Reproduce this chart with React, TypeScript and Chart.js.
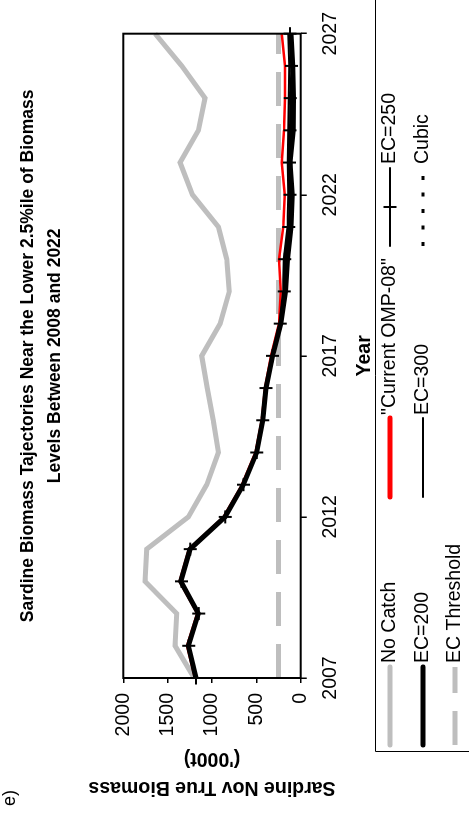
import React, { useEffect, useRef } from "react";
import { Chart, registerables } from "chart.js";
Chart.register(...registerables);

const years = [2007, 2008, 2009, 2010, 2011, 2012, 2013, 2014, 2015, 2016, 2017, 2018, 2019, 2020, 2021, 2022, 2023, 2024, 2025, 2026, 2027];
const noCatch = [1200, 1417, 1398, 1755, 1736, 1267, 1059, 928, 985, 1053, 1116, 909, 805, 834, 928, 1220, 1360, 1154, 1079, 1341, 1642];
const ec200 = [1180, 1267, 1154, 1352, 1248, 853, 647, 496, 428, 391, 316, 225, 170, 150, 110, 95, 120, 85, 80, 90, 110];
const ec250 = [1180, 1262, 1150, 1345, 1245, 850, 645, 495, 428, 391, 318, 230, 185, 180, 135, 120, 125, 120, 118, 105, 120];
const ec300 = [1182, 1265, 1152, 1348, 1246, 852, 648, 498, 430, 393, 322, 240, 200, 190, 150, 140, 145, 140, 135, 130, 140];
const cubic = [1180, 1264, 1152, 1350, 1247, 851, 646, 496, 428, 391, 317, 235, 180, 165, 120, 105, 115, 105, 100, 100, 110];
const omp08 = [1192, 1280, 1166, 1365, 1262, 868, 662, 510, 440, 402, 335, 245, 225, 244, 196, 180, 214, 188, 177, 177, 214];
const thresholdYears = [2007, 2027];
const thresholdValues = [250, 250];
const xTicks = [2007, 2012, 2017, 2022, 2027];
const yTicks = [0, 500, 1000, 1500, 2000];
const titleLines = ["Sardine Biomass Tajectories Near the Lower 2.5%ile of Biomass", "Levels Between 2008 and 2022"];
const yTitleLines = ["Sardine Nov True Biomass", "('000t)"];
const xTitle = "Year";
const panelLabel = "e)";
const legendLabels = ["No Catch", "\"Current OMP-08\"", "EC=250", "EC=200", "EC=300", "Cubic", "EC Threshold"];

const FONT = "'Liberation Sans', Arial, Helvetica, sans-serif";
const W = 836;
const H = 469;
const GREY = "#BEBEBE";

const pts = (xs: number[], ys: number[]) => xs.map((x, i) => ({ x, y: ys[i] }));

export default function App() {
  const ref = useRef<HTMLCanvasElement | null>(null);
  useEffect(() => {
    const canvas = ref.current;
    if (!canvas) return;

    const styles: Record<string, any> = {
      "No Catch": { color: GREY, width: 5, dash: [] as number[], marker: false },
      "\"Current OMP-08\"": { color: "#FF0000", width: 5, dash: [], marker: false },
      "EC=250": { color: "#000000", width: 2, dash: [], marker: true },
      "EC=200": { color: "#000000", width: 5, dash: [], marker: false },
      "EC=300": { color: "#000000", width: 2, dash: [], marker: false },
      "Cubic": { color: "#000000", width: 3, dash: [4, 12.5], marker: false },
      "EC Threshold": { color: GREY, width: 5, dash: [34, 18], marker: false },
    };

    const overlay = {
      id: "overlay",
      afterDraw(chart: any) {
        const ctx = chart.ctx as CanvasRenderingContext2D;
        const a = chart.chartArea;
        ctx.save();
        ctx.strokeStyle = "#000";
        ctx.lineWidth = 2;
        ctx.setLineDash([]);
        ctx.strokeRect(a.left, a.top, a.right - a.left, a.bottom - a.top);
        ctx.fillStyle = "#000";
        ctx.textAlign = "center";
        ctx.textBaseline = "middle";
        ctx.font = `bold 17.5px ${FONT}`;
        const cx = (a.left + a.right) / 2;
        ctx.fillText(titleLines[0], cx, 28);
        ctx.fillText(titleLines[1], cx, 55);
        ctx.font = `bold 19.5px ${FONT}`;
        ctx.fillText(xTitle, cx, 365);
        const cy = (a.top + a.bottom) / 2;
        ctx.save();
        ctx.translate(49, cy);
        ctx.rotate(-Math.PI / 2);
        ctx.fillText(yTitleLines[0], 0, 0);
        ctx.restore();
        ctx.save();
        ctx.translate(78, cy);
        ctx.rotate(-Math.PI / 2);
        ctx.fillText(yTitleLines[1], 0, 0);
        ctx.restore();
        ctx.font = `18px ${FONT}`;
        ctx.textAlign = "left";
        ctx.fillText(panelLabel, 30, 10);
        ctx.lineWidth = 1;
        ctx.strokeStyle = "#000";
        ctx.beginPath();
        ctx.moveTo(84.5, H + 2);
        ctx.lineTo(84.5, 375.5);
        ctx.lineTo(W + 2, 375.5);
        ctx.stroke();
        const rows = [390, 423, 455];
        const segs = [[91, 169], [339, 418], [590, 668]];
        const texts = [173, 421, 672];
        ctx.font = `19.5px ${FONT}`;
        ctx.textBaseline = "middle";
        legendLabels.forEach((lab, i) => {
          const r = Math.floor(i / 3);
          const c = i % 3;
          const st = styles[lab];
          const y = rows[r];
          const [x0, x1] = segs[c];
          ctx.strokeStyle = st.color;
          ctx.lineWidth = st.width;
          ctx.lineCap = st.dash.length ? "butt" : "round";
          ctx.setLineDash(st.dash);
          ctx.beginPath();
          ctx.moveTo(x0, y);
          ctx.lineTo(x1, y);
          ctx.stroke();
          ctx.setLineDash([]);
          if (st.marker) {
            const m = (x0 + x1) / 2;
            ctx.lineWidth = 2;
            ctx.lineCap = "butt";
            ctx.beginPath();
            ctx.moveTo(m - 6.5, y);
            ctx.lineTo(m + 6.5, y);
            ctx.moveTo(m, y - 6.5);
            ctx.lineTo(m, y + 6.5);
            ctx.stroke();
          }
          ctx.fillStyle = "#000";
          ctx.fillText(lab, texts[c], y);
        });
        ctx.restore();
      },
    };

    const line = (label: string, xs: number[], ys: number[], order: number, extra: any = {}) => {
      const st = styles[label];
      return {
        label,
        data: pts(xs, ys),
        borderColor: st.color,
        backgroundColor: st.color,
        borderWidth: st.width,
        borderDash: st.dash,
        pointRadius: st.marker ? 6.5 : 0,
        pointStyle: "cross",
        pointBorderWidth: 2,
        pointBorderColor: st.color,
        tension: 0,
        fill: false,
        order,
        clip: false,
        ...extra,
      };
    };

    const chart = new Chart(canvas, {
      type: "line",
      data: {
        datasets: [
          line("EC=250", years, ec250, 0),
          line("Cubic", years, cubic, 1),
          line("EC=300", years, ec300, 2),
          line("EC=200", years, ec200, 3),
          line("\"Current OMP-08\"", years, omp08, 4, { borderWidth: 2.5 }),
          line("EC Threshold", thresholdYears, thresholdValues, 5),
          line("No Catch", years, noCatch, 6),
        ] as any,
      },
      options: {
        responsive: false,
        maintainAspectRatio: false,
        animation: false,
        devicePixelRatio: 1,
        layout: { padding: { left: 0, right: W - 812.7, top: 123.3, bottom: 0 } },
        plugins: { legend: { display: false }, title: { display: false }, tooltip: { enabled: false } },
        scales: {
          x: {
            type: "linear",
            min: 2007,
            max: 2027,
            afterBuildTicks: (s: any) => { s.ticks = xTicks.map((v) => ({ value: v })); },
            afterFit: (s: any) => { s.height = H - 300.7; },
            ticks: { callback: (v: any) => String(v), font: { family: FONT, size: 19.5 }, color: "#000", padding: 12, maxRotation: 0, autoSkip: false },
            grid: { drawOnChartArea: false, drawTicks: true, tickLength: 6, color: "#000", lineWidth: 1.5 },
            border: { display: false },
          },
          y: {
            type: "linear",
            min: 0,
            max: 2000,
            afterBuildTicks: (s: any) => { s.ticks = yTicks.map((v) => ({ value: v })); },
            afterFit: (s: any) => { s.width = 158; },
            ticks: { callback: (v: any) => String(v), font: { family: FONT, size: 19.5 }, color: "#000", padding: 10 },
            grid: { drawOnChartArea: false, drawTicks: true, tickLength: 5, color: "#000", lineWidth: 1.5 },
            border: { display: false },
          },
        },
      },
      plugins: [overlay],
    });
    return () => chart.destroy();
  }, []);

  return (
    <div style={{ position: "fixed", left: 0, top: 0, width: 469, height: 836, overflow: "hidden", background: "#fff" }}>
      <div
        style={{
          position: "absolute",
          left: 0,
          top: 0,
          width: W,
          height: H,
          transformOrigin: "0 0",
          transform: `translate(0px, ${W}px) rotate(-90deg)`,
        }}
      >
        <canvas ref={ref} width={W} height={H} style={{ width: W, height: H, display: "block" }} />
      </div>
    </div>
  );
}
